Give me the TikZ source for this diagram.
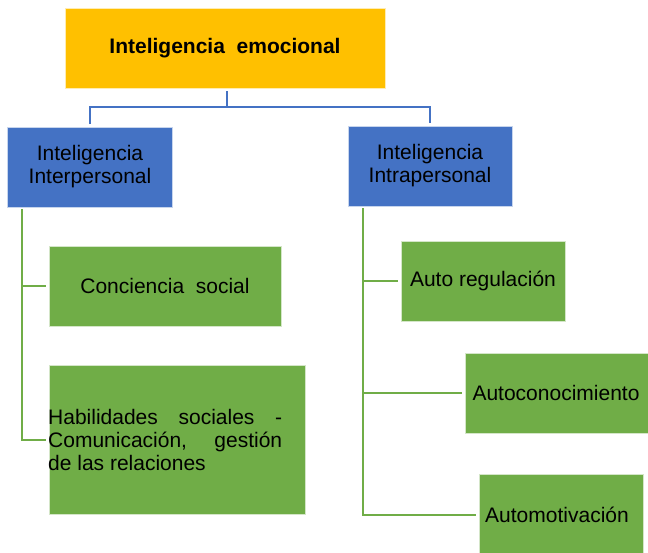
\documentclass[tikz,border=0pt]{standalone}
\usepackage{fontspec}
\setmainfont{Liberation Sans}
\definecolor{yel}{HTML}{FFC000}
\definecolor{blu}{HTML}{4472C4}
\definecolor{grn}{HTML}{70AD47}
\begin{document}
\begin{tikzpicture}[x=1pt,y=-1pt,
  box/.style={rectangle, inner sep=0pt, outer sep=0pt, draw=white!70!#1, line width=0.7pt, fill=#1,
    font=\fontsize{21}{23}\selectfont, align=center},
  bl/.style={draw=blu, line width=2pt},
  gl/.style={draw=grn, line width=2pt}]
\useasboundingbox (0,0) rectangle (648,552);
\begin{scope}
\clip (0,0) rectangle (648,552);
\node[box=yel, minimum width=320pt, minimum height=80pt] (emo) at (225,48) {\textbf{Inteligencia\ \ emocional}};
\node[box=blu, minimum width=165pt, minimum height=80pt] (inter) at (90,167) {Inteligencia\\Interpersonal};
\node[box=blu, minimum width=164pt, minimum height=80pt] (intra) at (430,166) {Inteligencia\\Intrapersonal};
\node[box=grn, minimum width=232pt, minimum height=80pt] (concien) at (165,286) {Conciencia\ \ social};
\node[box=grn, minimum width=256pt, minimum height=149pt] (habil) at (177,439.5) {};
\node[anchor=west, inner sep=0pt, font=\fontsize{21}{23}\selectfont, align=left] (habtxt) at (48,440)
  {\makebox[234pt][s]{Habilidades\hfill sociales\hfill -}\\
   \makebox[234pt][s]{Comunicación,\hfill gestión}\\
   de las relaciones};
\node[box=grn, minimum width=164pt, minimum height=80pt] (autoreg) at (483,281) {Auto\ regulación};
\node[box=grn, minimum width=185pt, minimum height=80pt] (autocon) at (557.5,393) {};
\node[font=\fontsize{21}{23}\selectfont, inner sep=0pt] (autocontxt) at (556,393) {Autoconocimiento};
\node[box=grn, minimum width=164pt, minimum height=82pt] (automot) at (561,515) {};
\node[font=\fontsize{21}{23}\selectfont, inner sep=0pt] (automottxt) at (557,515) {Automotivación};
\end{scope}
% blue connectors
\coordinate (bus) at (227,107);
\draw[bl] (emo.south -| bus) ++(0,3) -- (bus);
\draw[bl] ([yshift=3pt]inter.north) |- (bus) -| ([yshift=3pt]intra.north);
% green connectors
\coordinate (lv) at ([xshift=14.5pt,yshift=-2pt]inter.south west);
\draw[gl] (lv) |- ([xshift=-3pt]habil.west);
\draw[gl] (lv |- concien.west) -- ([xshift=-3pt]concien.west);
\coordinate (rv) at ([xshift=15pt,yshift=-2pt]intra.south west);
\draw[gl] (rv) |- ([xshift=-3pt]automot.west);
\draw[gl] (rv |- autoreg.west) -- ([xshift=-3pt]autoreg.west);
\draw[gl] (rv |- autocon.west) -- ([xshift=-3pt]autocon.west);
\end{tikzpicture}
\end{document}
